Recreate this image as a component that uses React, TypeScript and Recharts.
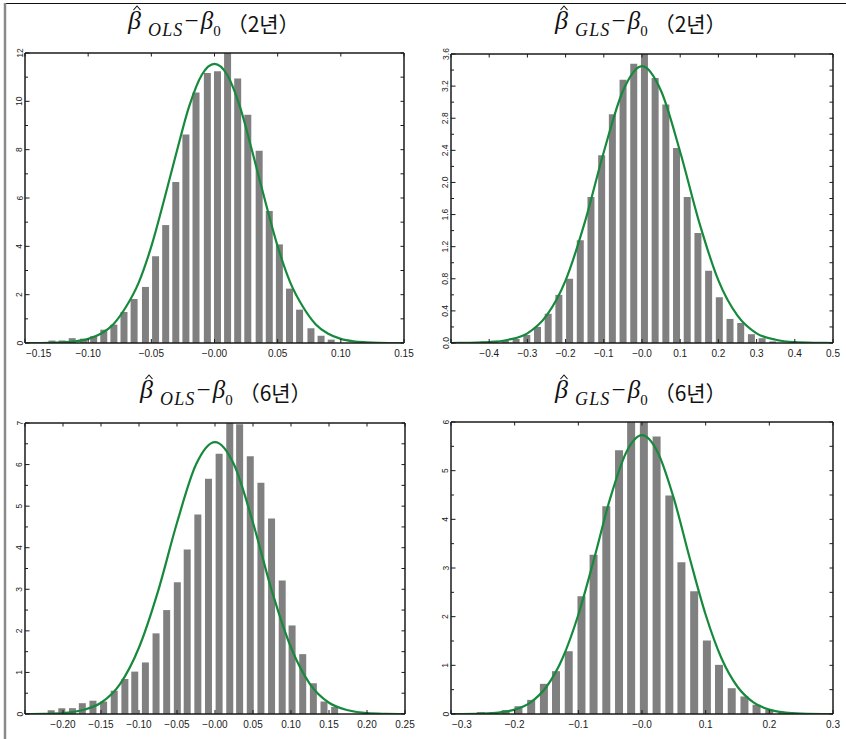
import React from 'react';
import { ComposedChart, Bar, Line, XAxis, YAxis } from 'recharts';

const GRAY = '#808080';
const GREEN = '#17893c';
const INK = '#1a1a1a';
const SANS = "'Liberation Sans', Arial, Helvetica, sans-serif";
const SERIF = "'Liberation Serif', 'Times New Roman', serif";
const KR = "'Noto Sans CJK KR', 'Noto Sans', sans-serif";

// OLS, 2년
const olsTwoBinX = [-0.129, -0.121, -0.113, -0.104, -0.096, -0.088, -0.08, -0.072, -0.064, -0.055, -0.047, -0.039, -0.031, -0.023, -0.015, -0.006, 0.002, 0.01, 0.018, 0.026, 0.035, 0.043, 0.051, 0.059, 0.067, 0.076, 0.084, 0.092];
const olsTwoDensity = [0.1, 0.1, 0.2, 0.18, 0.28, 0.55, 0.76, 1.28, 1.82, 2.32, 3.59, 4.88, 6.66, 8.63, 10.37, 11.17, 11.24, 12.06, 10.94, 9.45, 7.96, 5.46, 4.08, 2.25, 1.38, 0.61, 0.3, 0.14];
const olsTwoCurveX = [-0.15, -0.13, -0.12, -0.11, -0.1, -0.09, -0.08, -0.07, -0.06, -0.05, -0.04, -0.03, -0.02, -0.01, 0, 0.01, 0.02, 0.03, 0.04, 0.05, 0.06, 0.07, 0.08, 0.09, 0.1, 0.11, 0.12, 0.13, 0.15];
const olsTwoCurveY = [0, 0.01, 0.03, 0.07, 0.17, 0.38, 0.78, 1.5, 2.5, 4.0, 5.9, 7.9, 9.8, 11.1, 11.55, 11.1, 9.8, 7.9, 5.9, 4.0, 2.5, 1.5, 0.78, 0.38, 0.17, 0.07, 0.03, 0.01, 0];
const olsTwoXTicks = [-0.15, -0.1, -0.05, 0, 0.05, 0.1, 0.15];
const olsTwoYTicks = [0, 2, 4, 6, 8, 10, 12];
const olsTwoYMinor = [1, 3, 5, 7, 9, 11];

// GLS, 2년
const glsTwoBinX = [-0.414, -0.386, -0.358, -0.33, -0.302, -0.274, -0.246, -0.218, -0.19, -0.162, -0.134, -0.106, -0.078, -0.05, -0.022, 0.006, 0.034, 0.062, 0.09, 0.118, 0.146, 0.174, 0.202, 0.23, 0.258, 0.286, 0.314, 0.342];
const glsTwoDensity = [0.02, 0.03, 0.03, 0.05, 0.1, 0.2, 0.365, 0.6, 0.8, 1.28, 1.82, 2.34, 2.85, 3.28, 3.48, 3.63, 3.3, 2.97, 2.43, 1.82, 1.37, 0.9, 0.57, 0.3, 0.25, 0.11, 0.06, 0.02];
const glsTwoCurveX = [-0.5, -0.45, -0.4, -0.35, -0.3, -0.25, -0.2, -0.15, -0.1, -0.05, 0, 0.05, 0.1, 0.15, 0.2, 0.25, 0.3, 0.35, 0.4, 0.45, 0.5];
const glsTwoCurveY = [0, 0.002, 0.01, 0.04, 0.12, 0.34, 0.78, 1.5, 2.38, 3.14, 3.45, 3.14, 2.38, 1.5, 0.78, 0.34, 0.12, 0.04, 0.01, 0.002, 0];
const glsTwoXTicks = [-0.5, -0.4, -0.3, -0.2, -0.1, 0, 0.1, 0.2, 0.3, 0.4, 0.5];
const glsTwoXLabels = [-0.4, -0.3, -0.2, -0.1, 0, 0.1, 0.2, 0.3, 0.4, 0.5];
const glsTwoYTicks = [0, 0.4, 0.8, 1.2, 1.6, 2.0, 2.4, 2.8, 3.2, 3.6];
const glsTwoYMinor = [0.2, 0.6, 1.0, 1.4, 1.8, 2.2, 2.6, 3.0, 3.4];

// OLS, 6년
const olsSixBinX = [-0.215, -0.201, -0.187, -0.174, -0.16, -0.146, -0.132, -0.118, -0.105, -0.091, -0.077, -0.063, -0.049, -0.036, -0.022, -0.008, 0.006, 0.02, 0.033, 0.047, 0.061, 0.075, 0.089, 0.102, 0.116, 0.13, 0.144, 0.158];
const olsSixDensity = [0.09, 0.14, 0.14, 0.26, 0.32, 0.3, 0.56, 0.84, 1.02, 1.24, 1.94, 2.5, 3.17, 3.96, 4.8, 5.66, 6.26, 7.03, 6.97, 6.2, 5.56, 4.7, 3.21, 2.13, 1.44, 0.74, 0.3, 0.17];
const olsSixCurveX = [-0.25, -0.225, -0.2, -0.175, -0.15, -0.125, -0.1, -0.075, -0.05, -0.025, 0, 0.025, 0.05, 0.075, 0.1, 0.125, 0.15, 0.175, 0.2, 0.225, 0.25];
const olsSixCurveY = [0, 0.005, 0.02, 0.09, 0.27, 0.72, 1.6, 2.95, 4.6, 6.0, 6.54, 6.0, 4.6, 2.95, 1.6, 0.72, 0.27, 0.09, 0.02, 0.005, 0];
const olsSixXTicks = [-0.25, -0.2, -0.15, -0.1, -0.05, 0, 0.05, 0.1, 0.15, 0.2, 0.25];
const olsSixXLabels = [-0.2, -0.15, -0.1, -0.05, 0, 0.05, 0.1, 0.15, 0.2, 0.25];
const olsSixYTicks = [0, 1, 2, 3, 4, 5, 6, 7];
const olsSixYMinor = [0.5, 1.5, 2.5, 3.5, 4.5, 5.5, 6.5];

// GLS, 6년
const glsSixBinX = [-0.253, -0.233, -0.214, -0.194, -0.174, -0.154, -0.135, -0.115, -0.095, -0.076, -0.056, -0.036, -0.017, 0.003, 0.023, 0.043, 0.062, 0.082, 0.102, 0.121, 0.141, 0.161, 0.18, 0.2, 0.22, 0.24, 0.259];
const glsSixDensity = [0.04, 0.03, 0.08, 0.16, 0.29, 0.62, 0.88, 1.29, 2.42, 3.27, 4.27, 5.42, 6.1, 6.1, 5.7, 4.49, 3.12, 2.52, 1.51, 1.01, 0.53, 0.36, 0.19, 0.09, 0.03, 0.01, 0.02];
const glsSixCurveX = [-0.3, -0.25, -0.225, -0.2, -0.175, -0.15, -0.125, -0.1, -0.075, -0.05, -0.025, 0, 0.025, 0.05, 0.075, 0.1, 0.125, 0.15, 0.175, 0.2, 0.225, 0.25, 0.3];
const glsSixCurveY = [0, 0.01, 0.03, 0.09, 0.24, 0.56, 1.14, 2.04, 3.2, 4.43, 5.37, 5.73, 5.37, 4.43, 3.2, 2.04, 1.14, 0.56, 0.24, 0.09, 0.03, 0.01, 0];
const glsSixXTicks = [-0.3, -0.2, -0.1, 0, 0.1, 0.2, 0.3];
const glsSixYTicks = [0, 1, 2, 3, 4, 5, 6];
const glsSixYMinor = [0.5, 1.5, 2.5, 3.5, 4.5, 5.5];

const same = (a: number, b: number) => Math.abs(a - b) < 1e-9;

const fmt = (v: number, digits: number) => {
  if (same(v, 0)) return '\u2212' + (0).toFixed(digits);
  return v < 0 ? '\u2212' + Math.abs(v).toFixed(digits) : v.toFixed(digits);
};

type PanelProps = {
  left: number;
  top: number;
  plotW: number;
  plotH: number;
  binX: number[];
  density: number[];
  curveX: number[];
  curveY: number[];
  xTicks: number[];
  xLabels: number[];
  xDigits: number;
  yTicks: number[];
  yMinor: number[];
  yDigits: number;
  barSize: number;
};

// axes are 1px thick, so the plot sits 15px down and 30px right in each chart box
const M = { top: 14, right: 19, bottom: 24, left: 29 };

function Panel(p: PanelProps) {
  const bins = p.binX.map((x, i) => ({ x, density: p.density[i] }));
  const curve = p.curveX.map((x, i) => ({ x, pdf: p.curveY[i] }));
  const xDomain = [p.xTicks[0], p.xTicks[p.xTicks.length - 1]];
  const yDomain = [0, p.yTicks[p.yTicks.length - 1]];
  const yAll = [...p.yTicks, ...p.yMinor].sort((a, b) => a - b);
  const xMin = xDomain[0];
  const frame = { stroke: INK, strokeWidth: 1.5 };

  const bottomTick = (t: any) => {
    const v = t.payload.value;
    const show = p.xLabels.some((l) => same(l, v));
    const atMin = same(v, xMin);
    return (
      <g>
        <line x1={t.x} x2={t.x} y1={t.y} y2={t.y - 4} stroke={INK} strokeWidth={1} />
        {show && (
          <text x={atMin ? t.x + 1 : t.x} y={t.y + 14} textAnchor={atMin ? 'start' : 'middle'} fontSize={10} fontFamily={SANS} fill={INK}>
            {fmt(v, p.xDigits)}
          </text>
        )}
      </g>
    );
  };
  const topTick = (t: any) => (
    <line x1={t.x} x2={t.x} y1={t.y} y2={t.y + 3.5} stroke={INK} strokeWidth={1} />
  );
  const leftTick = (t: any) => {
    const v = t.payload.value;
    const major = p.yTicks.some((l) => same(l, v));
    const lx = t.x - 2.5;
    return (
      <g>
        <line x1={t.x} x2={t.x + (major ? 4.5 : 3)} y1={t.y} y2={t.y} stroke={INK} strokeWidth={1} />
        {major && (
          <text x={lx} y={t.y} transform={`rotate(-90 ${lx} ${t.y})`} textAnchor="middle" fontSize={8.5} fontFamily={SANS} fill={INK}>
            {v.toFixed(p.yDigits)}
          </text>
        )}
      </g>
    );
  };
  const rightTick = (t: any) => (
    <line x1={t.x} x2={t.x - 3.5} y1={t.y} y2={t.y} stroke={INK} strokeWidth={1} />
  );

  return (
    <div style={{ position: 'absolute', left: p.left - M.left - 1, top: p.top - M.top - 1 }}>
      <ComposedChart width={p.plotW + M.left + M.right + 2} height={p.plotH + M.top + M.bottom + 2} margin={M} data={bins}>
        <XAxis xAxisId="b" type="number" dataKey="x" domain={xDomain} ticks={p.xTicks} interval={0} height={1} tickSize={0} tickMargin={0} tickLine={false} axisLine={frame} tick={bottomTick} allowDataOverflow />
        <XAxis xAxisId="t" orientation="top" type="number" dataKey="x" domain={xDomain} ticks={p.xTicks} interval={0} height={1} tickSize={0} tickMargin={0} tickLine={false} axisLine={frame} tick={topTick} allowDataOverflow />
        <YAxis yAxisId="l" type="number" domain={yDomain} ticks={yAll} interval={0} width={1} tickSize={0} tickMargin={0} tickLine={false} axisLine={frame} tick={leftTick} allowDataOverflow />
        <YAxis yAxisId="r" orientation="right" type="number" domain={yDomain} ticks={yAll} interval={0} width={1} tickSize={0} tickMargin={0} tickLine={false} axisLine={frame} tick={rightTick} allowDataOverflow />
        <Bar xAxisId="b" yAxisId="l" dataKey="density" fill={GRAY} barSize={p.barSize} isAnimationActive={false} />
        <Line data={curve} xAxisId="t" yAxisId="l" dataKey="pdf" type="monotone" stroke={GREEN} strokeWidth={2.2} dot={false} activeDot={false} isAnimationActive={false} />
      </ComposedChart>
    </div>
  );
}

function Title({ x, base, sub, years }: { x: number; base: number; sub: string; years: string }) {
  const hx = x + 9;
  const hy = base - 23;
  return (
    <g>
      {/* the hat over the first beta */}
      <polyline points={`${hx - 3.5},${hy + 4} ${hx},${hy} ${hx + 3.5},${hy + 4}`} fill="none" stroke="#111" strokeWidth={1.1} />
      <text x={x} y={base} fontFamily={SERIF} fill="#111">
        <tspan fontSize={26} fontStyle="italic">{'\u03B2'}</tspan>
        <tspan fontSize={18} fontStyle="italic" dx={7} dy={7} letterSpacing={1.2}>{sub}</tspan>
        <tspan fontSize={25} dx={1} dy={-7}>{'\u2212'}</tspan>
        <tspan fontSize={25} fontStyle="italic" dx={2}>{'\u03B2'}</tspan>
        <tspan fontSize={15} dy={7}>0</tspan>
        <tspan fontSize={21} fontFamily={KR} dx={6} dy={-4}>{`\uFF08${years}\uFF09`}</tspan>
      </text>
    </g>
  );
}

export default function App() {
  return (
    <div style={{ position: 'absolute', left: 0, top: 0, width: 846, height: 739, background: '#fff', overflow: 'hidden' }}>
      <Panel left={25} top={53} plotW={379} plotH={290} binX={olsTwoBinX} density={olsTwoDensity} curveX={olsTwoCurveX} curveY={olsTwoCurveY}
        xTicks={olsTwoXTicks} xLabels={olsTwoXTicks} xDigits={2} yTicks={olsTwoYTicks} yMinor={olsTwoYMinor} yDigits={0} barSize={7} />
      <Panel left={451} top={54} plotW={382} plotH={289} binX={glsTwoBinX} density={glsTwoDensity} curveX={glsTwoCurveX} curveY={glsTwoCurveY}
        xTicks={glsTwoXTicks} xLabels={glsTwoXLabels} xDigits={1} yTicks={glsTwoYTicks} yMinor={glsTwoYMinor} yDigits={1} barSize={7} />
      <Panel left={25} top={423} plotW={380} plotH={291} binX={olsSixBinX} density={olsSixDensity} curveX={olsSixCurveX} curveY={olsSixCurveY}
        xTicks={olsSixXTicks} xLabels={olsSixXLabels} xDigits={2} yTicks={olsSixYTicks} yMinor={olsSixYMinor} yDigits={0} barSize={7} />
      <Panel left={451} top={422} plotW={382} plotH={292} binX={glsSixBinX} density={glsSixDensity} curveX={glsSixCurveX} curveY={glsSixCurveY}
        xTicks={glsSixXTicks} xLabels={glsSixXTicks} xDigits={1} yTicks={glsSixYTicks} yMinor={glsSixYMinor} yDigits={0} barSize={8} />
      <svg width={846} height={739} style={{ position: 'absolute', left: 0, top: 0, pointerEvents: 'none' }}>
        <line x1={5} x2={846} y1={3.5} y2={3.5} stroke="#111" strokeWidth={1} />
        <line x1={5} x2={5} y1={3} y2={739} stroke="#8a8a8a" strokeWidth={2.5} />
        <Title x={128} base={29} sub="OLS" years="2년" />
        <Title x={555} base={29} sub="GLS" years="2년" />
        <Title x={140} base={398} sub="OLS" years="6년" />
        <Title x={555} base={398} sub="GLS" years="6년" />
      </svg>
    </div>
  );
}
